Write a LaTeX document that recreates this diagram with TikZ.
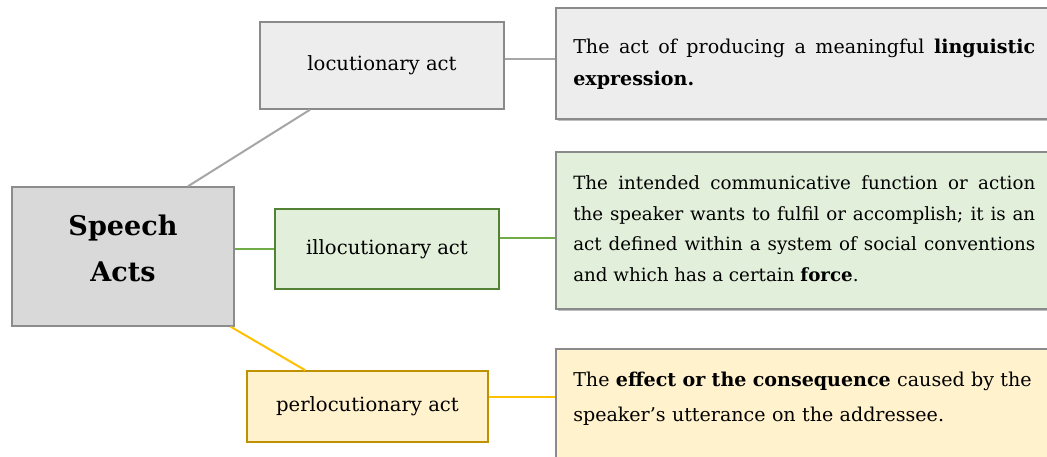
\documentclass[tikz,border=0pt]{standalone}
\usepackage{fontspec}
\setmainfont{DejaVu Serif}
\usetikzlibrary{calc,shadows}

\definecolor{hubfill}{HTML}{D9D9D9}
\definecolor{hubline}{HTML}{8C8C8C}
\definecolor{greyfill}{HTML}{EDEDED}
\definecolor{greyline}{HTML}{8A8A8A}
\definecolor{greylink}{HTML}{A6A6A6}
\definecolor{greenfill}{HTML}{E2EFDA}
\definecolor{greenline}{HTML}{548235}
\definecolor{greenlink}{HTML}{70AD47}
\definecolor{goldfill}{HTML}{FFF2CC}
\definecolor{goldline}{HTML}{BF9000}
\definecolor{goldlink}{HTML}{FFC000}

\tikzset{
  box/.style={draw, rectangle, inner sep=0pt, line width=1.1pt},
  hub/.style={box, fill=hubfill, draw=hubline},
  hubtext/.style={inner sep=0pt, align=center,
    font=\fontsize{20.3pt}{34.3pt}\selectfont\bfseries},
  actbox/.style={box, font=\fontsize{14.7pt}{17pt}\selectfont},
  descbox/.style={box, draw=greyline,
    drop shadow={shadow xshift=1.2pt, shadow yshift=-1.5pt, opacity=0.45, fill=black!55}},
  desctext/.style={inner sep=0pt, anchor=north west, text width=346.5pt},
  link/.style={line width=1.5pt},
}

\begin{document}
\begin{tikzpicture}[x=0.75pt, y=-0.75pt]
\useasboundingbox (0,0) rectangle (1047,457);
\fill[white] (0,0) rectangle (1047,457);

% central box
\node[hub, minimum width=166.5pt, minimum height=104.25pt] (sa) at (123,256.5) {};
\node[hubtext] (satext) at (123,248.5) {Speech\\Acts};

% the three kinds of act
\node[actbox, fill=greyfill, draw=greyline, minimum width=183pt, minimum height=65.25pt]
  (loc) at (382,65.5) {locutionary act};
\node[actbox, fill=greenfill, draw=greenline, minimum width=168pt, minimum height=60pt]
  (ill) at (387,249) {illocutionary act};
\node[actbox, fill=goldfill, draw=goldline, minimum width=180.75pt, minimum height=53.25pt]
  (per) at (367.5,406.5) {perlocutionary act};

% description panels
\node[descbox, fill=greyfill, minimum width=375pt, minimum height=83.25pt]
  (d1) at (806,63.5) {};
\node[descbox, fill=greenfill, minimum width=375pt, minimum height=117.75pt]
  (d2) at (806,230.5) {};
\node[descbox, fill=goldfill, minimum width=375pt, minimum height=90pt]
  (d3) at (806,409) {};

\node[desctext, align=justify, font=\fontsize{14.3pt}{24pt}\selectfont]
  (t1) at (573,38.5) {The act of producing a meaningful \textbf{linguistic}\linebreak \textbf{expression.}};
\node[desctext, align=justify, font=\fontsize{13.7pt}{23pt}\selectfont]
  (t2) at (573,175.2) {The intended communicative function or action\linebreak
  the speaker wants to fulfil or accomplish; it is an\linebreak
  act defined within a system of social conventions\linebreak
  and which has a certain \textbf{force}.};
\node[desctext, text width=365pt, align=left, font=\fontsize{14.3pt}{26.25pt}\selectfont]
  (t3) at (573,372.2) {The \textbf{effect or the consequence} caused by the\\
  speaker’s utterance on the addressee.};

% connectors
\draw[link, greylink] ($(sa.north)+(65,0)$) -- ($(loc.south)+(-72,0)$);
\draw[link, greenlink] (ill.west -| sa.east) -- (ill.west);
\draw[link, goldlink] ($(sa.south east)+(-4,0)$) -- ($(per.north west)+(59,0)$);

\coordinate (locout) at ($(loc.east)+(0,-6.5)$);
\coordinate (illout) at ($(ill.east)+(0,-11)$);
\coordinate (perout) at ($(per.east)+(0,-9.5)$);
\draw[link, greylink] (locout) -- (locout -| d1.west);
\draw[link, greenlink] (illout) -- (illout -| d2.west);
\draw[link, goldlink] (perout) -- (perout -| d3.west);
\end{tikzpicture}
\end{document}
